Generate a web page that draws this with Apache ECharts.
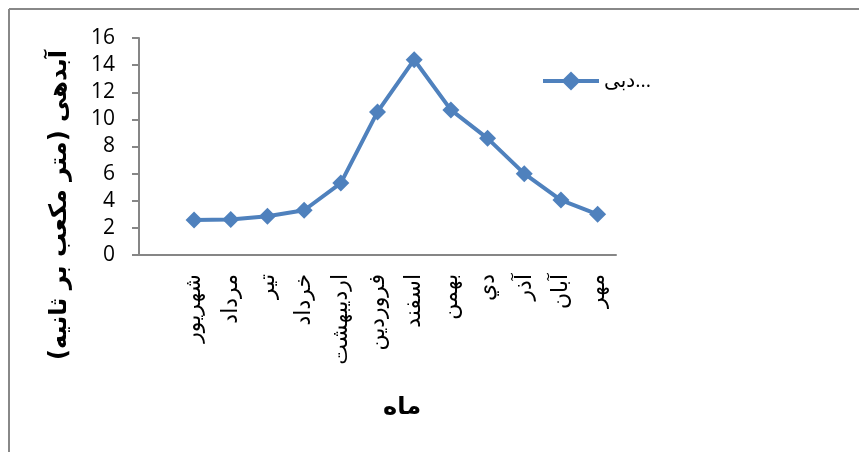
<!DOCTYPE html>
<html>
<head>
<meta charset="utf-8">
<script src="https://cdn.jsdelivr.net/npm/echarts@6/dist/echarts.min.js"></script>
<style>html,body{margin:0;padding:0;background:#fff;}#c{width:859px;height:452px;}</style>
</head>
<body>
<div id="c"></div>
<script>
var categories = ['', 'شهریور', 'مرداد', 'تیر', 'خرداد', 'اردیبهشت', 'فروردین', 'اسفند', 'بهمن', 'دي', 'آذر', 'آبان', 'مهر'];
var flowValues = [null, 2.58, 2.62, 2.85, 3.3, 5.3, 10.55, 14.4, 10.7, 8.6, 6.0, 4.05, 3.0];
var seriesName = 'دبی...';
var yTitle = 'آبدهی (متر مکعب بر ثانیه)';
var xTitle = 'ماه';

var chart = echarts.init(document.getElementById('c'));
var font = "'Open Sans', 'DejaVu Sans', sans-serif";
chart.setOption({
  animation: false,
  grid: {left: 139, right: 243, top: 38, bottom: 197, containLabel: false},
  legend: {
    data: [seriesName],
    left: 536, top: 66,
    itemWidth: 56, itemHeight: 24,
    itemGap: 6,
    lineStyle: {width: 4},
    textStyle: {fontSize: 20, color: '#000', fontFamily: font}
  },
  xAxis: {
    type: 'category',
    data: categories,
    boundaryGap: true,
    axisLine: {lineStyle: {color: '#868686', width: 2}},
    axisTick: {show: false},
    axisLabel: {rotate: 90, interval: 0, fontSize: 22, color: '#000', fontFamily: font, margin: 19, padding: [0, 0, 0, 0]}
  },
  yAxis: {
    type: 'value', min: 0, max: 16, interval: 2,
    axisLine: {show: true, lineStyle: {color: '#868686', width: 2}},
    axisTick: {show: true, length: 7, lineStyle: {color: '#868686', width: 2}},
    splitLine: {show: false},
    axisLabel: {fontSize: 21, color: '#000', fontFamily: font, margin: 24}
  },
  series: [{
    name: seriesName,
    type: 'line',
    data: flowValues,
    symbol: 'diamond',
    symbolSize: 17,
    lineStyle: {color: '#4F81BD', width: 4},
    itemStyle: {color: '#4F81BD'}
  }],
  graphic: [
    {type: 'line', shape: {x1: 9, y1: 9, x2: 859, y2: 9}, style: {stroke: '#888', lineWidth: 2}},
    {type: 'line', shape: {x1: 9, y1: 9, x2: 9, y2: 452}, style: {stroke: '#888', lineWidth: 2}},
    {type: 'text', x: 60, y: 205, rotation: Math.PI / 2,
      style: {text: yTitle, fontSize: 24, fontWeight: 'bold', fill: '#000', fontFamily: "'DejaVu Sans', sans-serif", align: 'center', verticalAlign: 'middle'}},
    {type: 'text', x: 402, y: 408,
      style: {text: xTitle, fontSize: 24, fontWeight: 'bold', fill: '#000', fontFamily: "'DejaVu Sans', sans-serif", align: 'center', verticalAlign: 'middle'}}
  ]
});
</script>
</body>
</html>
